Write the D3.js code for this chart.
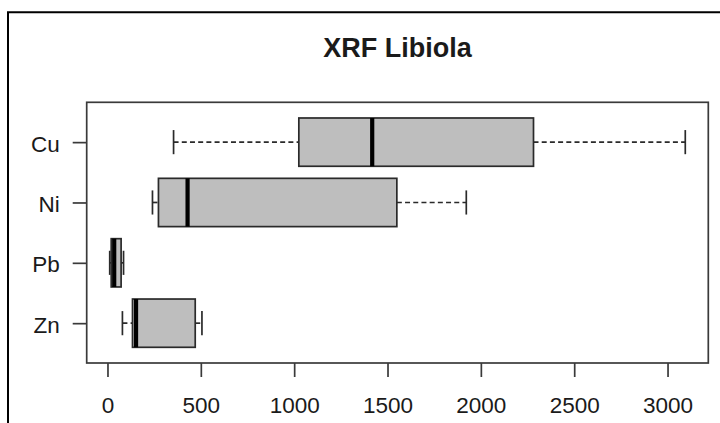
<!DOCTYPE html>
<html>
<head>
<meta charset="utf-8">
<script src="https://cdn.jsdelivr.net/npm/d3@7"></script>
<style>
  html, body { margin: 0; padding: 0; background: #fff; }
  svg { display: block; }
  text { font-family: "Liberation Sans", Arial, sans-serif; fill: #1a1a1a; }
</style>
</head>
<body>
<svg id="chart" width="720" height="423"></svg>
<script>
// ---- data ----
const title = "XRF Libiola";
const categories = ["Cu", "Ni", "Pb", "Zn"];          // top to bottom
const mins    = [354, 241, 12, 80];
const q1s     = [1025, 273, 20, 134];
const medians = [1418, 429, 36, 153];
const q3s     = [2282, 1550, 73, 470];
const maxs    = [3095, 1922, 86, 506];
const xTicks  = [0, 500, 1000, 1500, 2000, 2500, 3000];

// ---- layout ----
const W = 720, H = 423;
const plot = { left: 86.7, right: 708.3, top: 102.3, bottom: 363 };
const svg = d3.select("#chart");

const boxes = categories.map((c, i) => ({
  name: c,
  pos: categories.length - i,
  min: mins[i], q1: q1s[i], med: medians[i], q3: q3s[i], max: maxs[i]
}));

// x scale: data range padded 4% like R
const lo = d3.min(mins), hi = d3.max(maxs);
const pad = (hi - lo) * 0.04;
const x = d3.scaleLinear().domain([lo - pad, hi + pad]).range([plot.left, plot.right]);
const n = categories.length;
const y = d3.scaleLinear().domain([0.5 - 0.04 * n, n + 0.5 + 0.04 * n]).range([plot.bottom, plot.top]);

// outer frame (only top and left visible)
svg.append("path")
  .attr("d", `M8,${H + 10} L8,12.3 L${W + 10},12.3`)
  .attr("fill", "none").attr("stroke", "#000").attr("stroke-width", 2);

// title
svg.append("text")
  .attr("x", (plot.left + plot.right) / 2).attr("y", 56.7)
  .attr("text-anchor", "middle")
  .style("font-size", "27px").style("font-weight", "bold")
  .text(title);

const boxHalf = 0.4, capHalf = 0.2;
const g = svg.append("g");
const strokeC = "#2a2a2a";

boxes.forEach(b => {
  const cy = y(b.pos);
  const top = y(b.pos + boxHalf), bot = y(b.pos - boxHalf);
  const ctop = y(b.pos + capHalf), cbot = y(b.pos - capHalf);
  // whiskers
  g.append("line").attr("x1", x(b.min)).attr("x2", x(b.q1)).attr("y1", cy).attr("y2", cy)
    .attr("stroke", strokeC).attr("stroke-width", 1.7).attr("stroke-dasharray", "5,3.2");
  g.append("line").attr("x1", x(b.q3)).attr("x2", x(b.max)).attr("y1", cy).attr("y2", cy)
    .attr("stroke", strokeC).attr("stroke-width", 1.7).attr("stroke-dasharray", "5,3.2");
  // staples
  [b.min, b.max].forEach(v => {
    g.append("line").attr("x1", x(v)).attr("x2", x(v)).attr("y1", ctop).attr("y2", cbot)
      .attr("stroke", strokeC).attr("stroke-width", 1.7);
  });
  // box
  g.append("rect").attr("x", x(b.q1)).attr("y", top)
    .attr("width", x(b.q3) - x(b.q1)).attr("height", bot - top)
    .attr("fill", "#bebebe").attr("stroke", strokeC).attr("stroke-width", 1.7);
  // median
  g.append("line").attr("x1", x(b.med)).attr("x2", x(b.med)).attr("y1", top).attr("y2", bot)
    .attr("stroke", "#000").attr("stroke-width", 4.2);
});

// plot frame
svg.append("rect").attr("x", plot.left).attr("y", plot.top)
  .attr("width", plot.right - plot.left).attr("height", plot.bottom - plot.top)
  .attr("fill", "none").attr("stroke", "#3a3a3a").attr("stroke-width", 1.7);

// x axis
const xAxis = d3.axisBottom(x).tickValues(xTicks).tickSize(14).tickPadding(20).tickFormat(d3.format("d"));
const gx = svg.append("g").attr("transform", `translate(0,${plot.bottom})`).call(xAxis);
gx.select(".domain").remove();
gx.selectAll(".tick line").attr("stroke", "#3a3a3a").attr("stroke-width", 1.7);
gx.selectAll(".tick text").style("font-size", "22.5px").style("font-family", "Liberation Sans, Arial, sans-serif")
  .attr("fill", "#1a1a1a").attr("dy", null).attr("y", 50.3);

// y axis
const yAxis = d3.axisLeft(y).tickValues(boxes.map(b => b.pos)).tickSize(14).tickPadding(13)
  .tickFormat(p => boxes.find(b => b.pos === p).name);
const gy = svg.append("g").attr("transform", `translate(${plot.left},0)`).call(yAxis);
gy.select(".domain").remove();
gy.selectAll(".tick line").attr("stroke", "#3a3a3a").attr("stroke-width", 1.7);
gy.selectAll(".tick text").style("font-size", "22.5px").style("font-family", "Liberation Sans, Arial, sans-serif")
  .attr("fill", "#1a1a1a").attr("dy", "0.4em");
</script>
</body>
</html>
